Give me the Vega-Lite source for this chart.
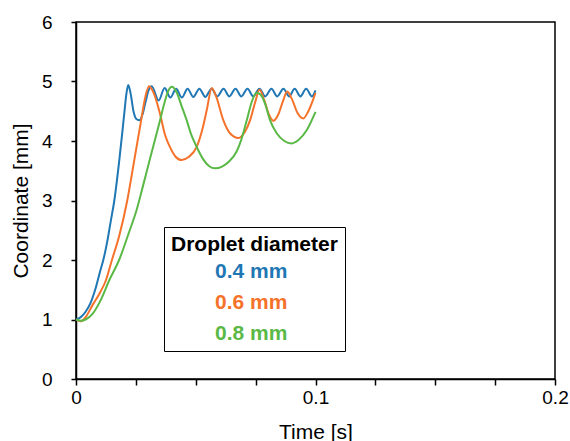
{
  "$schema": "https://vega.github.io/schema/vega-lite/v6.json",
  "width": 479,
  "height": 357,
  "autosize": {"type": "none"},
  "padding": {"left": 76, "top": 22, "right": 15, "bottom": 62},
  "background": "white",
  "config": {
    "font": "Liberation Sans",
    "view": {"stroke": "black", "strokeWidth": 1.5},
    "axis": {"grid": false, "domainColor": "black", "domainWidth": 1.5, "tickColor": "black", "tickWidth": 1.5, "labelColor": "black", "titleColor": "black", "labelFontSize": 19, "titleFontSize": 21, "titleFontWeight": "normal", "labelFont": "Liberation Sans", "titleFont": "Liberation Sans"}
  },
  "data": {"values": [
    {"d":"0.4 mm","t":0,"y":1.0},{"d":"0.4 mm","t":0.002,"y":1.04},{"d":"0.4 mm","t":0.004,"y":1.13},{"d":"0.4 mm","t":0.006,"y":1.27},{"d":"0.4 mm","t":0.008,"y":1.5},{"d":"0.4 mm","t":0.010,"y":1.8},{"d":"0.4 mm","t":0.0114,"y":2.0},{"d":"0.4 mm","t":0.013,"y":2.3},{"d":"0.4 mm","t":0.0145,"y":2.65},{"d":"0.4 mm","t":0.016,"y":3.0},{"d":"0.4 mm","t":0.018,"y":3.65},{"d":"0.4 mm","t":0.020,"y":4.4},{"d":"0.4 mm","t":0.021,"y":4.78},{"d":"0.4 mm","t":0.0218,"y":4.94},{"d":"0.4 mm","t":0.0228,"y":4.8},{"d":"0.4 mm","t":0.024,"y":4.5},{"d":"0.4 mm","t":0.0252,"y":4.37},{"d":"0.4 mm","t":0.0264,"y":4.35},{"d":"0.4 mm","t":0.0278,"y":4.45},{"d":"0.4 mm","t":0.029,"y":4.65},{"d":"0.4 mm","t":0.0303,"y":4.85},{"d":"0.4 mm","t":0.0316,"y":4.92},{"d":"0.4 mm","t":0.0345,"y":4.68},{"d":"0.4 mm","t":0.037,"y":4.89},{"d":"0.4 mm","t":0.0394,"y":4.73},{"d":"0.4 mm","t":0.0418,"y":4.88},{"d":"0.4 mm","t":0.0442,"y":4.73},{"d":"0.4 mm","t":0.0466,"y":4.88},{"d":"0.4 mm","t":0.049,"y":4.74},{"d":"0.4 mm","t":0.0515,"y":4.88},{"d":"0.4 mm","t":0.054,"y":4.74},{"d":"0.4 mm","t":0.0566,"y":4.88},{"d":"0.4 mm","t":0.059,"y":4.75},{"d":"0.4 mm","t":0.0616,"y":4.88},{"d":"0.4 mm","t":0.064,"y":4.75},{"d":"0.4 mm","t":0.0666,"y":4.88},{"d":"0.4 mm","t":0.069,"y":4.75},{"d":"0.4 mm","t":0.0716,"y":4.88},{"d":"0.4 mm","t":0.074,"y":4.75},{"d":"0.4 mm","t":0.0766,"y":4.88},{"d":"0.4 mm","t":0.079,"y":4.75},{"d":"0.4 mm","t":0.0816,"y":4.88},{"d":"0.4 mm","t":0.084,"y":4.75},{"d":"0.4 mm","t":0.0866,"y":4.88},{"d":"0.4 mm","t":0.089,"y":4.75},{"d":"0.4 mm","t":0.0913,"y":4.88},{"d":"0.4 mm","t":0.0937,"y":4.75},{"d":"0.4 mm","t":0.0961,"y":4.88},{"d":"0.4 mm","t":0.0985,"y":4.75},{"d":"0.4 mm","t":0.1,"y":4.85},

    {"d":"0.6 mm","t":0,"y":1.0},{"d":"0.6 mm","t":0.002,"y":0.97},{"d":"0.6 mm","t":0.004,"y":1.04},{"d":"0.6 mm","t":0.007,"y":1.25},{"d":"0.6 mm","t":0.010,"y":1.45},{"d":"0.6 mm","t":0.0125,"y":1.66},{"d":"0.6 mm","t":0.015,"y":2.0},{"d":"0.6 mm","t":0.018,"y":2.4},{"d":"0.6 mm","t":0.0214,"y":3.0},{"d":"0.6 mm","t":0.024,"y":3.6},{"d":"0.6 mm","t":0.027,"y":4.3},{"d":"0.6 mm","t":0.029,"y":4.75},{"d":"0.6 mm","t":0.0305,"y":4.92},{"d":"0.6 mm","t":0.0325,"y":4.8},{"d":"0.6 mm","t":0.035,"y":4.47},{"d":"0.6 mm","t":0.0372,"y":4.1},{"d":"0.6 mm","t":0.0392,"y":3.9},{"d":"0.6 mm","t":0.0415,"y":3.74},{"d":"0.6 mm","t":0.0441,"y":3.68},{"d":"0.6 mm","t":0.047,"y":3.73},{"d":"0.6 mm","t":0.0504,"y":3.9},{"d":"0.6 mm","t":0.0528,"y":4.2},{"d":"0.6 mm","t":0.0546,"y":4.52},{"d":"0.6 mm","t":0.0567,"y":4.89},{"d":"0.6 mm","t":0.0585,"y":4.75},{"d":"0.6 mm","t":0.0615,"y":4.35},{"d":"0.6 mm","t":0.0643,"y":4.13},{"d":"0.6 mm","t":0.0678,"y":4.05},{"d":"0.6 mm","t":0.0705,"y":4.15},{"d":"0.6 mm","t":0.0727,"y":4.35},{"d":"0.6 mm","t":0.0748,"y":4.65},{"d":"0.6 mm","t":0.0766,"y":4.86},{"d":"0.6 mm","t":0.0785,"y":4.7},{"d":"0.6 mm","t":0.0805,"y":4.45},{"d":"0.6 mm","t":0.0824,"y":4.34},{"d":"0.6 mm","t":0.0845,"y":4.45},{"d":"0.6 mm","t":0.0865,"y":4.68},{"d":"0.6 mm","t":0.0882,"y":4.83},{"d":"0.6 mm","t":0.0902,"y":4.7},{"d":"0.6 mm","t":0.0925,"y":4.47},{"d":"0.6 mm","t":0.0949,"y":4.38},{"d":"0.6 mm","t":0.097,"y":4.5},{"d":"0.6 mm","t":0.1,"y":4.81},

    {"d":"0.8 mm","t":0,"y":1.0},{"d":"0.8 mm","t":0.002,"y":0.98},{"d":"0.8 mm","t":0.004,"y":1.0},{"d":"0.8 mm","t":0.007,"y":1.1},{"d":"0.8 mm","t":0.010,"y":1.3},{"d":"0.8 mm","t":0.0139,"y":1.66},{"d":"0.8 mm","t":0.018,"y":2.0},{"d":"0.8 mm","t":0.022,"y":2.45},{"d":"0.8 mm","t":0.0253,"y":2.84},{"d":"0.8 mm","t":0.028,"y":3.25},{"d":"0.8 mm","t":0.031,"y":3.72},{"d":"0.8 mm","t":0.0335,"y":4.1},{"d":"0.8 mm","t":0.0351,"y":4.35},{"d":"0.8 mm","t":0.037,"y":4.65},{"d":"0.8 mm","t":0.0385,"y":4.84},{"d":"0.8 mm","t":0.040,"y":4.91},{"d":"0.8 mm","t":0.042,"y":4.82},{"d":"0.8 mm","t":0.044,"y":4.6},{"d":"0.8 mm","t":0.0462,"y":4.35},{"d":"0.8 mm","t":0.048,"y":4.12},{"d":"0.8 mm","t":0.0504,"y":3.9},{"d":"0.8 mm","t":0.053,"y":3.7},{"d":"0.8 mm","t":0.0555,"y":3.58},{"d":"0.8 mm","t":0.0581,"y":3.54},{"d":"0.8 mm","t":0.061,"y":3.57},{"d":"0.8 mm","t":0.064,"y":3.66},{"d":"0.8 mm","t":0.067,"y":3.82},{"d":"0.8 mm","t":0.069,"y":4.02},{"d":"0.8 mm","t":0.0713,"y":4.35},{"d":"0.8 mm","t":0.0734,"y":4.66},{"d":"0.8 mm","t":0.0754,"y":4.81},{"d":"0.8 mm","t":0.077,"y":4.78},{"d":"0.8 mm","t":0.079,"y":4.62},{"d":"0.8 mm","t":0.081,"y":4.35},{"d":"0.8 mm","t":0.0838,"y":4.13},{"d":"0.8 mm","t":0.087,"y":4.0},{"d":"0.8 mm","t":0.090,"y":3.96},{"d":"0.8 mm","t":0.093,"y":4.02},{"d":"0.8 mm","t":0.0963,"y":4.18},{"d":"0.8 mm","t":0.1,"y":4.49}
  ]},
  "mark": {"type": "line", "interpolate": "monotone", "strokeWidth": 2},
  "encoding": {
    "x": {"field": "t", "type": "quantitative", "scale": {"domain": [0, 0.2], "nice": false},
      "axis": {"title": "Time [s]", "values": [0, 0.025, 0.05, 0.075, 0.1, 0.125, 0.15, 0.175, 0.2], "labelExpr": "datum.value == 0 ? '0' : (abs(datum.value - 0.1) < 1e-9 ? '0.1' : (abs(datum.value - 0.2) < 1e-9 ? '0.2' : ''))", "tickSize": 6, "labelPadding": 3, "titlePadding": 14, "labelFlush": false}},
    "y": {"field": "y", "type": "quantitative", "scale": {"domain": [0, 6], "nice": false},
      "axis": {"title": "Coordinate [mm]", "values": [0, 1, 2, 3, 4, 5, 6], "tickSize": 5, "labelPadding": 19, "titlePadding": 10}},
    "color": {"field": "d", "type": "nominal",
      "scale": {"domain": ["0.4 mm", "0.6 mm", "0.8 mm"], "range": ["#1f77b4", "#f5722a", "#5ab946"]},
      "legend": {"title": "Droplet diameter", "orient": "none", "legendX": 88, "legendY": 205,
        "strokeColor": "black", "fillColor": "white", "padding": 7,
        "titleFontSize": 21, "titleFontWeight": "bold", "titleColor": "black", "titlePadding": 6,
        "labelFontSize": 21, "labelFontWeight": "bold", "labelOffset": 23,
        "symbolOpacity": 0, "symbolSize": 100, "symbolType": "circle", "rowPadding": 9,
        "encode": {"labels": {"update": {"fill": {"scale": "color", "field": "value"}}}}}}
  }
}
